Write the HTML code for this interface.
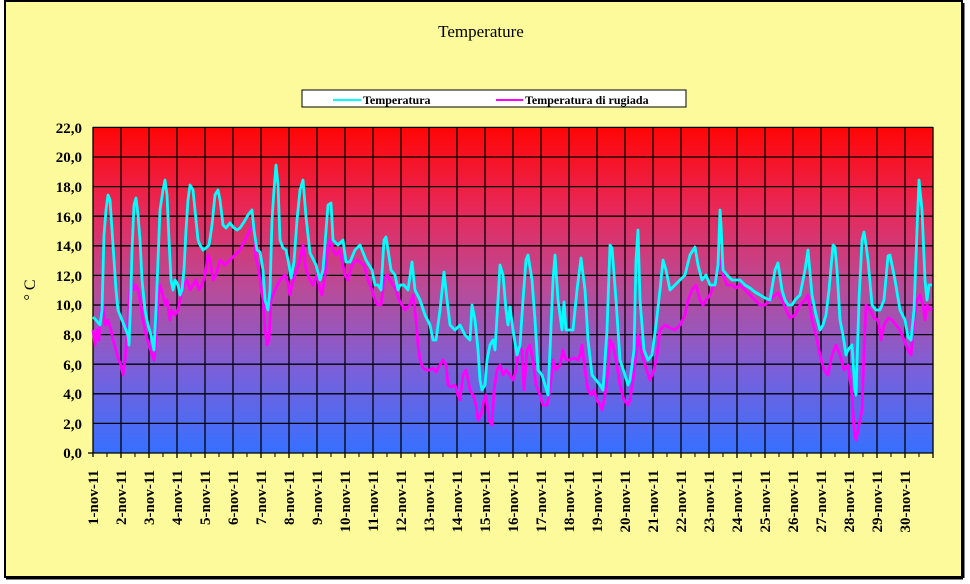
<!DOCTYPE html>
<html><head><meta charset="utf-8"><style>
html,body{margin:0;padding:0;background:#fff;}
svg{display:block;font-family:"Liberation Serif",serif;}
</style></head><body>
<svg width="970" height="584" viewBox="0 0 970 584" xmlns="http://www.w3.org/2000/svg">
<defs>
<linearGradient id="bg" x1="0" y1="0" x2="0" y2="1">
<stop offset="0" stop-color="#ff0505"/>
<stop offset="0.25" stop-color="#e82858"/>
<stop offset="0.5" stop-color="#b84c9a"/>
<stop offset="0.75" stop-color="#7a60da"/>
<stop offset="1" stop-color="#3670ff"/>
</linearGradient>
</defs>
<rect x="0" y="0" width="970" height="584" fill="#fff"/>
<rect x="5" y="1" width="957" height="576" fill="#fdfa9c" stroke="#000" stroke-width="2"/>
<line x1="6" y1="578" x2="963" y2="578" stroke="#000" stroke-width="3"/>
<line x1="963" y1="3" x2="963" y2="578" stroke="#000" stroke-width="3"/>
<text x="481" y="37" font-size="17" text-anchor="middle">Temperature</text>
<rect x="302" y="90" width="384" height="17" fill="#fff" stroke="#000" stroke-width="1"/>
<line x1="333" y1="100" x2="361" y2="100" stroke="#00ffff" stroke-width="2"/>
<text x="363" y="104" font-size="12" font-weight="bold">Temperatura</text>
<line x1="496" y1="100" x2="523" y2="100" stroke="#ff00ff" stroke-width="2"/>
<text x="525" y="104" font-size="12" font-weight="bold">Temperatura di rugiada</text>
<rect x="93" y="127" width="840" height="326" fill="url(#bg)"/>
<g stroke="#000" stroke-width="1.3">
<line x1="93" y1="127.4" x2="933" y2="127.4"/><line x1="93" y1="157" x2="933" y2="157"/><line x1="93" y1="186.6" x2="933" y2="186.6"/><line x1="93" y1="216.2" x2="933" y2="216.2"/><line x1="93" y1="245.8" x2="933" y2="245.8"/><line x1="93" y1="275.4" x2="933" y2="275.4"/><line x1="93" y1="305" x2="933" y2="305"/><line x1="93" y1="334.6" x2="933" y2="334.6"/><line x1="93" y1="364.2" x2="933" y2="364.2"/><line x1="93" y1="393.8" x2="933" y2="393.8"/><line x1="93" y1="423.4" x2="933" y2="423.4"/>
</g>
<g id="vg" stroke="#000" stroke-width="1.3"></g>
<line x1="93" y1="127" x2="93" y2="457" stroke="#000" stroke-width="1.3"/>
<line x1="88" y1="453" x2="933" y2="453" stroke="#000" stroke-width="1.3"/>
<g id="ticks" stroke="#000" stroke-width="1"></g>
<g font-size="15" font-weight="bold" text-anchor="end">
<text x="82" y="133">22,0</text><text x="82" y="162">20,0</text><text x="82" y="192">18,0</text><text x="82" y="222">16,0</text><text x="82" y="251">14,0</text><text x="82" y="281">12,0</text><text x="82" y="310">10,0</text><text x="82" y="340">8,0</text><text x="82" y="370">6,0</text><text x="82" y="399">4,0</text><text x="82" y="429">2,0</text><text x="82" y="458">0,0</text>
</g>
<text transform="translate(35,290) rotate(-90)" font-size="16" text-anchor="middle">° C</text>
<g id="xl" font-size="15" font-weight="bold" text-anchor="end"></g>
<polyline fill="none" stroke="#ff00ff" stroke-width="2.8" stroke-linejoin="round" points="93,330 95,345 97,330 99,340 101,310 103,305 105,325 108,320 111,330 113,340 116,350 118,358 121,365 123,375 125,360 128,320 130,290 132,280 134,290 136,285 138,290 140,300 143,320 146,335 149,345 152,355 154,360 156,340 158,300 160,285 163,295 165,305 167,300 170,320 172,310 175,315 178,310 181,295 184,285 187,280 190,290 193,285 196,280 199,290 202,285 205,275 208,255 210,260 213,280 216,275 220,260 225,265 230,260 235,255 240,250 245,240 250,230 254,225 256,260 258,265 260,280 263,300 265,330 267,345 269,340 271,300 275,290 280,280 285,275 288,283 290,295 292,285 295,275 300,260 303,245 306,270 310,280 313,285 317,275 320,290 322,295 325,275 328,245 330,240 333,250 336,255 340,250 345,275 348,280 352,265 356,260 360,262 364,265 368,280 372,290 375,300 378,305 381,305 384,280 387,275 390,280 393,285 396,290 399,300 402,305 405,310 410,305 413,295 416,320 418,345 420,360 423,368 426,370 430,370 433,368 436,372 440,365 443,360 446,365 448,385 451,387 455,385 458,395 460,400 463,375 466,370 470,390 473,395 476,405 478,420 481,415 484,400 486,395 489,420 492,425 494,390 497,370 500,365 503,375 506,370 510,375 513,380 516,370 519,345 522,350 524,390 527,350 530,345 533,360 536,385 540,395 543,405 547,405 550,390 553,360 556,370 560,365 563,350 566,360 570,360 574,358 578,360 580,355 582,345 585,370 588,390 591,395 594,390 597,400 600,405 602,410 605,395 608,370 610,340 613,345 616,360 620,385 624,400 628,405 630,400 633,380 636,355 638,335 641,350 645,365 650,380 654,370 657,355 660,330 665,325 670,328 675,330 680,325 685,315 688,300 692,290 696,285 700,300 703,305 706,300 710,295 714,285 718,270 721,260 723,275 727,285 732,285 736,288 740,285 745,290 750,295 755,300 760,305 765,305 770,300 775,295 778,293 782,300 786,310 790,318 795,315 800,305 805,300 808,295 812,320 816,335 820,355 824,370 828,375 832,355 836,345 840,355 844,370 848,365 852,395 854,430 856,440 859,425 862,410 864,350 866,305 870,310 874,318 878,320 881,340 884,325 888,318 892,320 896,325 900,330 904,340 908,350 911,355 914,320 917,300 920,295 923,305 925,320 927,305 930,310 932,308"/>
<polyline fill="none" stroke="#00ffff" stroke-width="2.8" stroke-linejoin="round" points="93,317 96,320 100,325 102,310 104,235 106,210 108,195 110,200 112,230 114,260 116,290 118,310 122,320 126,330 128,335 129,345 131,290 132,250 134,205 136,198 138,215 140,240 142,280 145,310 148,325 151,335 153,345 154,350 156,310 158,260 160,210 163,190 165,180 167,195 169,240 171,280 173,290 175,280 178,285 180,295 182,290 184,270 186,230 188,200 190,185 193,190 196,220 198,240 200,245 203,250 206,248 209,245 212,225 215,195 218,190 220,200 223,225 226,228 230,223 233,227 237,230 240,228 244,222 248,215 252,210 254,230 257,250 260,252 263,270 265,300 268,310 270,290 272,220 274,190 276,165 278,185 280,240 283,248 286,250 289,265 291,278 294,262 297,220 300,190 303,180 306,217 310,253 316,265 320,280 323,270 328,205 331,203 333,240 338,245 343,240 346,262 350,262 355,250 360,245 366,260 372,270 375,285 378,285 381,290 384,240 386,237 388,250 391,270 395,275 398,290 400,285 404,285 408,290 412,262 415,290 420,300 425,315 430,325 433,340 436,340 440,310 444,272 447,300 450,325 455,330 460,325 465,335 470,340 472,305 475,320 478,350 480,380 482,390 485,385 487,360 490,345 493,340 495,350 498,300 500,265 503,275 506,310 508,325 510,307 513,330 517,355 520,345 523,300 526,260 528,255 532,280 535,320 538,370 542,375 545,385 548,395 550,350 553,280 555,255 558,300 562,330 564,302 566,330 570,330 573,330 577,290 581,258 585,290 588,340 592,375 596,380 600,385 603,390 607,330 610,245 612,248 616,300 620,360 625,375 628,385 630,380 634,350 636,260 638,230 640,300 644,350 648,360 652,355 656,325 660,290 663,260 666,270 670,290 675,285 680,280 685,275 690,255 695,247 698,265 702,280 706,275 710,285 715,285 718,265 720,210 721,225 723,270 727,275 732,280 740,280 745,285 750,288 755,292 760,295 765,298 770,300 775,270 778,263 782,290 785,300 788,305 792,305 795,300 800,295 805,270 808,250 812,295 816,315 820,330 823,325 826,315 829,290 833,245 835,247 837,270 840,320 843,335 846,355 848,350 852,345 855,390 856,395 859,300 862,240 864,232 866,245 868,260 872,305 876,310 880,310 884,300 888,256 890,255 895,280 900,310 905,320 908,337 911,340 914,310 917,230 919,180 922,210 925,280 927,300 929,285 932,285"/>
<script>
var vg=document.getElementById('vg'),tk=document.getElementById('ticks'),xl=document.getElementById('xl'),ns='http://www.w3.org/2000/svg';
for(var i=1;i<=30;i++){var x=93+28*i;var l=document.createElementNS(ns,'line');l.setAttribute('x1',x);l.setAttribute('x2',x);l.setAttribute('y1',127);l.setAttribute('y2',458);vg.appendChild(l);}
for(var i=0;i<60;i++){var x=93+14*i+14;var l=document.createElementNS(ns,'line');l.setAttribute('x1',x);l.setAttribute('x2',x);l.setAttribute('y1',453);l.setAttribute('y2',457);tk.appendChild(l);}
for(var i=0;i<30;i++){var x=93+28*i+5;var t=document.createElementNS(ns,'text');t.setAttribute('transform','translate('+x+',470) rotate(-90)');t.textContent=(i+1)+'-nov-11';xl.appendChild(t);}
</script>
</svg>
</body></html>
